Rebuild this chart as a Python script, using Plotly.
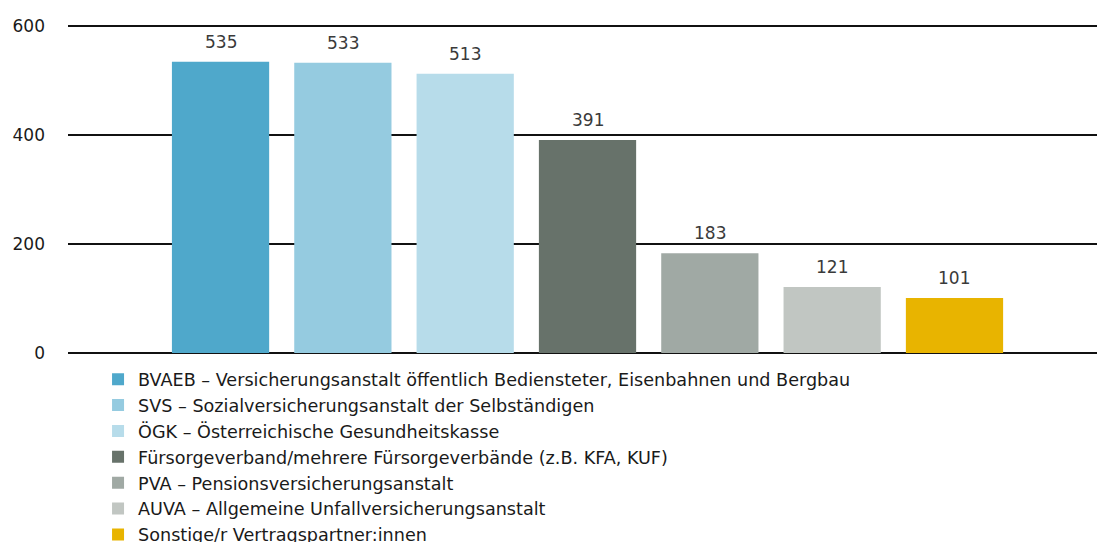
import plotly.graph_objects as go

categories = ["BVAEB", "SVS", "ÖGK", "Fürsorgeverband", "PVA", "AUVA", "Sonstige"]
legend_labels = [
    "BVAEB – Versicherungsanstalt öffentlich Bediensteter, Eisenbahnen und Bergbau",
    "SVS – Sozialversicherungsanstalt der Selbständigen",
    "ÖGK – Österreichische Gesundheitskasse",
    "Fürsorgeverband/mehrere Fürsorgeverbände (z.B. KFA, KUF)",
    "PVA – Pensionsversicherungsanstalt",
    "AUVA – Allgemeine Unfallversicherungsanstalt",
    "Sonstige/r Vertragspartner:innen",
]
values = [535, 533, 513, 391, 183, 121, 101]
colors = ["#4FA8CB", "#95CBE0", "#B7DCEA", "#67726A", "#A0A9A4", "#C1C6C2", "#E8B400"]
y_ticks = [0, 200, 400, 600]

FONT = "DejaVu Sans"

fig = go.Figure()
for i, (c, lab, v, col) in enumerate(zip(categories, legend_labels, values, colors)):
    fig.add_trace(go.Bar(
        x=[c], y=[v], name=lab, marker=dict(color=col, line=dict(width=0)),
        legendgroup=f"g{i}", hoverinfo="skip",
    ))
    fig.add_annotation(x=c, y=v, text=str(v), showarrow=False, yanchor="bottom",
                       yshift=8, font=dict(family=FONT, size=17, color="#3a3a3a"))

fig.update_layout(
    width=1097, height=542,
    margin=dict(l=68, r=0, t=22.7, b=189, autoexpand=False),
    paper_bgcolor="white", plot_bgcolor="white",
    bargap=0.205,
    showlegend=True,
    legend=dict(x=0.0292, y=-0.025, xanchor="left", yanchor="top",
                font=dict(family=FONT, size=17.6, color="#1a1a1a"),
                tracegroupgap=0, itemwidth=30, bgcolor="rgba(0,0,0,0)"),
    font=dict(family=FONT),
)
fig.update_xaxes(type="category", categoryorder="array", categoryarray=categories,
                 range=[-1.247, 7.165], showticklabels=False, showgrid=False,
                 zeroline=False, showline=False, ticks="")
fig.update_yaxes(range=[0, 606], tickvals=y_ticks, showgrid=True, gridcolor="#111111",
                 gridwidth=2, zeroline=True, zerolinecolor="#111111", zerolinewidth=2,
                 showline=False, ticks="", ticklabelstandoff=22,
                 tickfont=dict(family=FONT, size=17, color="#1a1a1a"))
fig.write_html("out.html", config={"displayModeBar": False},
               post_script="document.body.style.margin='0';document.body.style.padding='0';")
